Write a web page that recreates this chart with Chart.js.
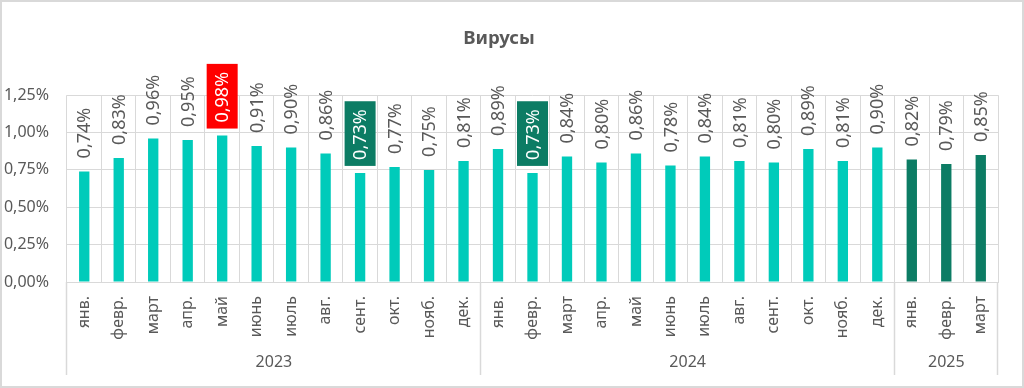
<!DOCTYPE html>
<html>
<head>
<meta charset="utf-8">
<script src="https://cdn.jsdelivr.net/npm/chart.js@4.4.1/dist/chart.umd.min.js"></script>
<style>
  html, body { margin: 0; padding: 0; background: #fff; }
  #wrap { width: 1024px; height: 388px; }
</style>
</head>
<body>
<div id="wrap"><canvas id="virusChart"></canvas></div>
<script>
// --- DATA ---
const months = ['янв.', 'февр.', 'март', 'апр.', 'май', 'июнь', 'июль', 'авг.', 'сент.', 'окт.', 'нояб.', 'дек.'];
const years = ['2023', '2024', '2025'];
const monthsPerYear = [12, 12, 3];
const values = [
    0.74, 0.83, 0.96, 0.95, 0.98, 0.91, 0.90, 0.86, 0.73, 0.77, 0.75, 0.81,
    0.89, 0.73, 0.84, 0.80, 0.86, 0.78, 0.84, 0.81, 0.80, 0.89, 0.81, 0.90,
    0.82, 0.79, 0.85
];
const yTicks = [0, 0.25, 0.5, 0.75, 1.0, 1.25];

// build category list from months per year
const labels = [];
monthsPerYear.forEach(n => { for (let i = 0; i < n; i++) labels.push(months[i]); });

// --- STYLE ---
const TEAL = '#00CBBA';
const DARK = '#0C7C64';
const GREY = '#595959';
const GRID = '#D9D9D9';
const FONT = "'Noto Sans', sans-serif";
// highlighted data labels (index -> box colour)
const labelBoxes = { 4: '#FF0000', 8: DARK, 13: DARK };

const fmt = v => v.toFixed(2).replace('.', ',') + '%';

// white background + outer frame
const framePlugin = {
    id: 'frame',
    beforeDraw(chart) {
        const c = chart.ctx;
        c.save();
        c.fillStyle = '#fff';
        c.fillRect(0, 0, chart.width, chart.height);
        c.strokeStyle = GRID;
        c.lineWidth = 2;
        c.strokeRect(1, 1, chart.width - 2, chart.height - 2);
        c.restore();
    }
};

// rotated value labels above the bars
const valueLabels = {
    id: 'valueLabels',
    afterDatasetsDraw(chart) {
        const c = chart.ctx;
        const meta = chart.getDatasetMeta(0);
        c.save();
        c.font = '18px ' + FONT;
        meta.data.forEach((bar, i) => {
            const txt = fmt(values[i]);
            const w = c.measureText(txt).width;
            c.save();
            c.translate(bar.x, bar.y - 13);
            c.rotate(-Math.PI / 2);
            if (labelBoxes[i]) {
                c.fillStyle = labelBoxes[i];
                c.fillRect(-6, -15.5, w + 14, 31);
                c.fillStyle = '#fff';
            } else {
                c.fillStyle = GREY;
            }
            c.textAlign = 'left';
            c.textBaseline = 'middle';
            c.fillText(txt, 0, 1);
            c.restore();
        });
        c.restore();
    }
};

// year row + group separators under the month labels
const yearAxis = {
    id: 'yearAxis',
    afterDraw(chart) {
        const c = chart.ctx;
        const x = chart.scales.x;
        const half = (x.getPixelForValue(1) - x.getPixelForValue(0)) / 2;
        const top = chart.chartArea.bottom;
        c.save();
        c.strokeStyle = GRID;
        c.lineWidth = 1.5;
        c.fillStyle = GREY;
        c.font = '16px ' + FONT;
        c.textAlign = 'center';
        c.textBaseline = 'middle';
        let start = 0;
        const edges = [0];
        monthsPerYear.forEach((n, k) => {
            const l = x.getPixelForValue(start) - half;
            const r = x.getPixelForValue(start + n - 1) + half;
            c.fillText(years[k], (l + r) / 2, 362);
            start += n;
            edges.push(start);
        });
        edges.forEach(e => {
            const px = Math.round(x.getPixelForValue(Math.min(e, labels.length - 1)) + (e >= labels.length ? half : -half)) - 0.5;
            c.beginPath();
            c.moveTo(px, top);
            c.lineTo(px, 375);
            c.stroke();
        });
        c.restore();
    }
};

let myChart = new Chart(document.getElementById('virusChart'), {
    type: 'bar',
    data: {
        labels: labels,
        datasets: [{
            data: values,
            backgroundColor: ctx => ctx.dataIndex >= 24 ? DARK : TEAL,
            categoryPercentage: 1,
            barPercentage: 0.3
        }]
    },
    options: {
        responsive: true,
        maintainAspectRatio: false,
        animation: false,
        layout: { padding: { left: 0, right: 26, top: 0, bottom: 6 } },
        plugins: {
            legend: { display: false },
            tooltip: { enabled: false },
            title: {
                display: true,
                text: 'Вирусы',
                color: GREY,
                font: { family: FONT, size: 18.5, weight: 'bold' },
                padding: { top: 28, bottom: 45 }
            }
        },
        scales: {
            x: {
                offset: true,
                grid: { color: GRID, drawTicks: false, offset: true },
                border: { color: GRID },
                ticks: {
                    autoSkip: false,
                    minRotation: 90,
                    maxRotation: 90,
                    padding: 14,
                    color: GREY,
                    font: { family: FONT, size: 16 }
                },
                afterFit: s => { s.height = 100; }
            },
            y: {
                min: 0,
                max: 1.25,
                afterBuildTicks: s => { s.ticks = yTicks.map(v => ({ value: v })); },
                grid: { color: GRID, drawTicks: false },
                border: { display: false },
                ticks: {
                    padding: 18,
                    color: GREY,
                    font: { family: FONT, size: 16 },
                    callback: v => fmt(v)
                },
                afterFit: s => { s.width = 67; }
            }
        }
    },
    plugins: [framePlugin, valueLabels, yearAxis]
});
</script>
</body>
</html>
